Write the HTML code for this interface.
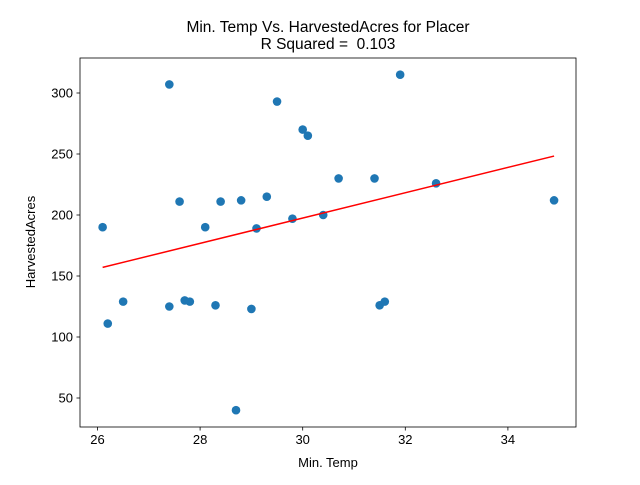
<!DOCTYPE html>
<html><head><meta charset="utf-8"><style>
html,body{margin:0;padding:0;background:#fff;}
svg text{font-family:"Liberation Sans","DejaVu Sans",sans-serif;fill:#000;}
</style></head><body>
<svg id="chart" width="640" height="480" viewBox="0 0 640 480" xmlns="http://www.w3.org/2000/svg">
<rect width="640" height="480" fill="#fff"/>
<text x="328" y="32" font-size="15.5" text-anchor="middle">Min. Temp Vs. HarvestedAcres for Placer</text>
<text x="328" y="49" font-size="15.5" text-anchor="middle">R Squared =&#160; 0.103</text>
<g id="marks"></g>
<g id="axes"></g>
<text x="328" y="467" font-size="13" text-anchor="middle">Min. Temp</text>
<text x="35" y="242" font-size="13" text-anchor="middle" transform="rotate(-90 35 242)">HarvestedAcres</text>
</svg>
<script>
const xVals=[26.1,26.2,26.5,27.4,27.4,27.6,27.7,27.8,28.1,28.3,28.4,28.7,28.8,29.0,29.1,29.3,29.5,29.8,30.0,30.1,30.4,30.7,31.4,31.5,31.6,31.9,32.6,34.9];
const yVals=[190,111,129,307,125,211,130,129,190,126,211,40,212,123,189,215,293,197,270,265,200,230,230,126,129,315,226,212];
const xTicks=[26,28,30,32,34];
const yTicks=[50,100,150,200,250,300];
const L=80,R=576,T=58,B=427;
function X(v){return 97.5+(v-26)*51.3;}
function Y(v){return 215-(v-200)*1.22;}
const NS="http://www.w3.org/2000/svg";
const marks=document.getElementById('marks'),axes=document.getElementById('axes');
function mk(tag,attrs,parent){const e=document.createElementNS(NS,tag);for(const k in attrs)e.setAttribute(k,attrs[k]);parent.appendChild(e);return e;}
const n=xVals.length;let mx=0,my=0;for(let i=0;i<n;i++){mx+=xVals[i];my+=yVals[i];}mx/=n;my/=n;
let sxy=0,sxx=0;for(let i=0;i<n;i++){sxy+=(xVals[i]-mx)*(yVals[i]-my);sxx+=(xVals[i]-mx)**2;}
const slope=sxy/sxx,icpt=my-slope*mx;
for(let i=0;i<n;i++){
  const c=mk('circle',{cx:X(xVals[i]),cy:Y(yVals[i]),r:4.3,fill:'#1f77b4'},marks);
  
  
}
const x0=Math.min(...xVals),x1=Math.max(...xVals);
const ln=mk('line',{x1:X(x0),y1:Y(icpt+slope*x0),x2:X(x1),y2:Y(icpt+slope*x1),stroke:'#ff0000','stroke-width':1.5},marks);


const fr=mk('rect',{x:L,y:T,width:R-L,height:B-T,fill:'none',stroke:'#000','stroke-width':0.8},axes);


xTicks.forEach(t=>{
  mk('line',{x1:X(t),x2:X(t),y1:B,y2:B+3.5,stroke:'#000','stroke-width':0.8},axes);
  const tx=mk('text',{x:X(t),y:B+17,'font-size':13,'text-anchor':'middle'},axes);
  tx.textContent=t;
  
  
});
yTicks.forEach(t=>{
  mk('line',{x1:L-3.5,x2:L,y1:Y(t),y2:Y(t),stroke:'#000','stroke-width':0.8},axes);
  const tx=mk('text',{x:L-7,y:Y(t)+4.5,'font-size':13,'text-anchor':'end'},axes);
  tx.textContent=t;
  
  
});
</script>
</body></html>
